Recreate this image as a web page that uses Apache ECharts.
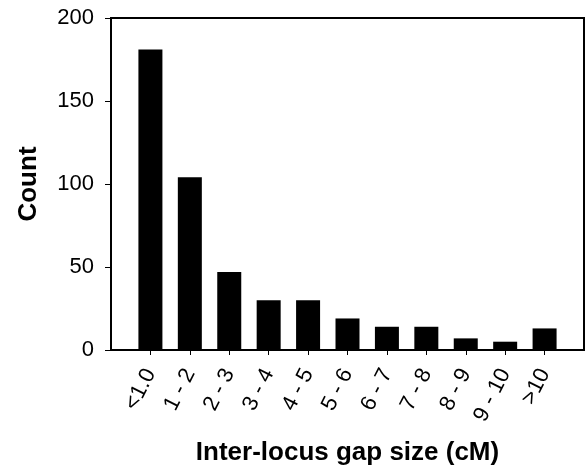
<!DOCTYPE html>
<html>
<head>
<meta charset="utf-8">
<script src="https://cdn.jsdelivr.net/npm/echarts@6/dist/echarts.min.js"></script>
<style>
html,body{margin:0;padding:0;background:#fff;}
#chart{width:587px;height:466px;}
</style>
</head>
<body>
<div id="chart"></div>
<script>
var categories = ['<1.0', '1 - 2', '2 - 3', '3 - 4', '4 - 5', '5 - 6', '6 - 7', '7 - 8', '8 - 9', '9 - 10', '>10'];
var counts = [181, 104, 47, 30, 30, 19, 14, 14, 7, 5, 13];
var yTicks = [0, 50, 100, 150, 200];

var chart = echarts.init(document.getElementById('chart'), null, {renderer: 'canvas'});
var FONT = 'Liberation Sans, Arial, sans-serif';
var positions = categories.map(function (c, i) { return i; });
chart.setOption({
  animation: false,
  backgroundColor: '#ffffff',
  grid: {left: 111, top: 18, right: 3, bottom: 116, containLabel: false, outerBoundsMode: 'none',
    show: true, borderColor: '#000', borderWidth: 2, backgroundColor: 'transparent'},
  xAxis: {
    type: 'value', min: -1, max: categories.length, interval: 1,
    name: 'Inter-locus gap size (cM)', nameLocation: 'middle', nameGap: 90,
    nameTextStyle: {fontFamily: FONT, fontSize: 26, fontWeight: 'bold', color: '#000'},
    axisLine: {show: true, onZero: false, lineStyle: {color: '#000', width: 2}},
    axisTick: {show: true, length: 5, customValues: positions, lineStyle: {color: '#000', width: 1}},
    axisLabel: {customValues: positions, rotate: 63, margin: 20, fontFamily: FONT, fontSize: 22, color: '#000',
      formatter: function (v) { return categories[Math.round(v)]; }},
    splitLine: {show: false}
  },
  yAxis: {
    type: 'value', min: yTicks[0], max: yTicks[yTicks.length - 1], interval: 50,
    name: 'Count', nameLocation: 'middle', nameGap: 69,
    nameTextStyle: {fontFamily: FONT, fontSize: 26, fontWeight: 'bold', color: '#000'},
    axisLine: {show: true, onZero: false, lineStyle: {color: '#000', width: 2}},
    axisTick: {show: true, length: 6, lineStyle: {color: '#000', width: 1}},
    axisLabel: {margin: 17, fontFamily: FONT, fontSize: 22, color: '#000'},
    splitLine: {show: false}
  },
  series: [{
    type: 'bar',
    barWidth: 24,
    itemStyle: {color: '#000'},
    data: counts.map(function (v, i) { return [positions[i], v]; })
  }]
});
</script>
</body>
</html>
